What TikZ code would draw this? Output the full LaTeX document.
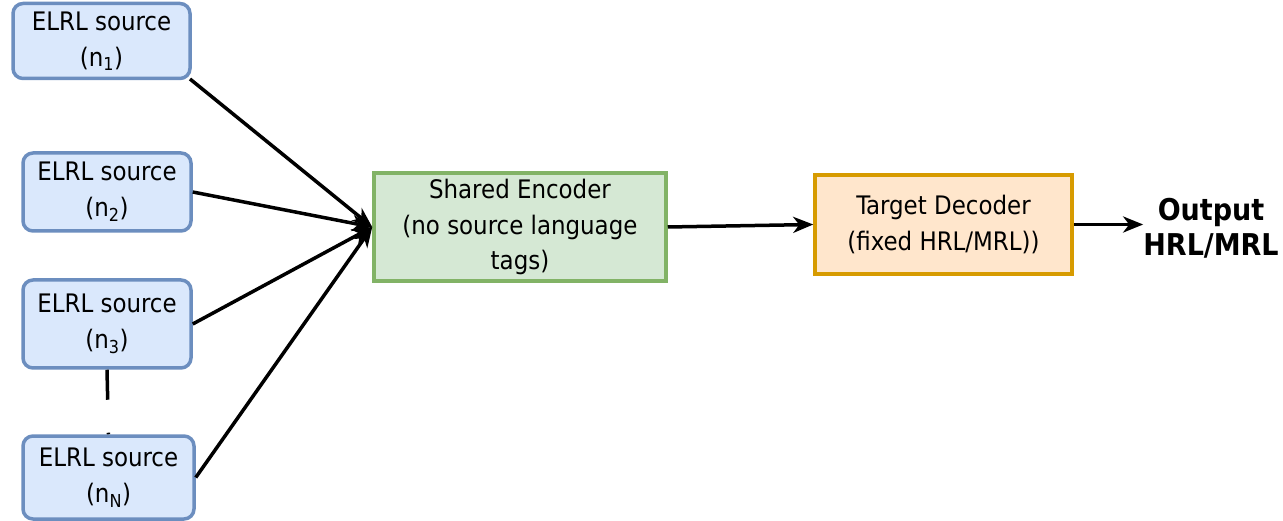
\documentclass[tikz,border=0pt]{standalone}
\usepackage{fontspec}
\setmainfont{DejaVu Sans Condensed}
\usetikzlibrary{arrows.meta}
\definecolor{srcfill}{HTML}{DAE8FC}
\definecolor{srcline}{HTML}{6C8EBF}
\definecolor{encfill}{HTML}{D5E8D4}
\definecolor{encline}{HTML}{82B366}
\definecolor{decfill}{HTML}{FFE6CC}
\definecolor{decline}{HTML}{D79B00}
\tikzset{
  srcbox/.style={draw=srcline, fill=srcfill, line width=3.5pt, rounded corners=10pt,
    align=center, inner sep=0pt, font=\fontsize{25.5}{36}\selectfont},
  mainbox/.style={rectangle, line width=3.5pt, align=center, inner sep=0pt,
    font=\fontsize{25.5}{35.5}\selectfont},
  link/.style={line width=3.5pt, -{Stealth[length=20pt,width=16pt,inset=6pt]}},
}
\begin{document}
\begin{tikzpicture}[x=1pt,y=-1pt]
\useasboundingbox (0,0) rectangle (1283,521);
% source language boxes
\node[srcbox, minimum width=177pt, minimum height=75pt] (n1) at (101.5,41)
  {ELRL source\\(n\textsubscript{1})};
\node[srcbox, minimum width=168pt, minimum height=78pt] (n2) at (107,192)
  {ELRL source\\(n\textsubscript{2})};
\node[srcbox, minimum width=168pt, minimum height=88pt] (n3) at (107,324)
  {ELRL source\\(n\textsubscript{3})};
\node[srcbox, minimum width=171pt, minimum height=83pt] (nN) at (108.5,477.5)
  {ELRL source\\(n\textsubscript{N})};
% encoder, decoder and output
\node[mainbox, draw=encline, fill=encfill, minimum width=292pt, minimum height=108pt] (enc) at (520,227)
  {Shared Encoder\\(no source language\\tags)};
\node[mainbox, draw=decline, fill=decfill, minimum width=257pt, minimum height=99pt] (dec) at (943.5,224.5)
  {Target Decoder\\(fixed HRL/MRL))};
\node[align=center, inner sep=0pt, font=\fontsize{30}{35}\selectfont\bfseries] (out) at (1211,228)
  {Output\\HRL/MRL};
% connectors
\coordinate (n1o) at (190,79);
\draw[link] (n1o) -- (enc.west);
\draw[link] (n2.east) -- (enc.west);
\draw[link] (n3.east) -- (enc.west);
\draw[link] (nN.east) -- (enc.west);
\draw[link] (enc.east) -- (dec.west);
\draw[link] (dec.east) -- (dec.east -| out.west);
\draw[line width=3.5pt, dash pattern=on 30pt off 33pt] (n3.south) -- (nN.north);
\end{tikzpicture}
\end{document}
